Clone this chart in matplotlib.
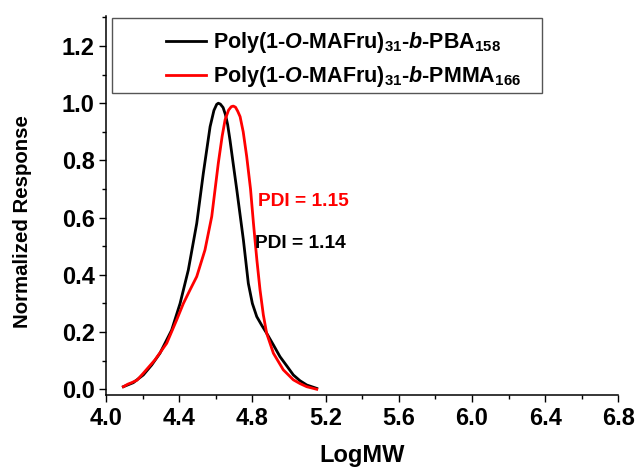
import numpy as np
import matplotlib.pyplot as plt
from matplotlib.patches import Rectangle
from matplotlib.ticker import MultipleLocator

plt.rcParams['font.family'] = ['Liberation Sans', 'DejaVu Sans']
plt.rcParams['font.weight'] = 'bold'
plt.rcParams['mathtext.fontset'] = 'custom'
plt.rcParams['mathtext.rm'] = 'Liberation Sans:bold'
plt.rcParams['mathtext.it'] = 'Liberation Sans:bold:italic'
plt.rcParams['mathtext.bf'] = 'Liberation Sans:bold'

# GPC traces (LogMW vs normalized detector response)
pba_logmw = [4.095, 4.149, 4.204, 4.25, 4.295, 4.359, 4.405, 4.45, 4.496, 4.532,
             4.569, 4.59, 4.605, 4.614, 4.625, 4.64, 4.653, 4.665, 4.678, 4.695,
             4.715, 4.751, 4.778, 4.8, 4.824, 4.85, 4.878, 4.915, 4.951, 4.99,
             5.024, 5.06, 5.097, 5.152]
pba_resp = [0.009, 0.023, 0.05, 0.085, 0.126, 0.207, 0.30, 0.417, 0.58, 0.755,
            0.918, 0.975, 0.996, 1.0, 0.997, 0.985, 0.96, 0.925, 0.87, 0.79,
            0.697, 0.522, 0.37, 0.30, 0.254, 0.225, 0.196, 0.155, 0.114, 0.08,
            0.05, 0.03, 0.015, 0.003]

pmma_logmw = [4.095, 4.12, 4.14, 4.17, 4.204, 4.268, 4.332, 4.386, 4.423, 4.459,
              4.496, 4.541, 4.578, 4.614, 4.635, 4.651, 4.67, 4.685, 4.696, 4.708,
              4.72, 4.733, 4.75, 4.769, 4.79, 4.806, 4.825, 4.842, 4.86, 4.878,
              4.915, 4.969, 5.024, 5.06, 5.097, 5.152]
pmma_resp = [0.009, 0.018, 0.023, 0.032, 0.056, 0.103, 0.161, 0.242, 0.30, 0.347,
             0.394, 0.487, 0.604, 0.791, 0.885, 0.942, 0.976, 0.988, 0.99, 0.986,
             0.972, 0.953, 0.90, 0.814, 0.70, 0.58, 0.45, 0.347, 0.26, 0.196,
             0.126, 0.068, 0.033, 0.02, 0.009, 0.0]

pba_label = r'Poly(1-$\mathit{O}$-MAFru)$_{\mathrm{31}}$-$\mathit{b}$-PBA$_{\mathrm{158}}$'
pmma_label = r'Poly(1-$\mathit{O}$-MAFru)$_{\mathrm{31}}$-$\mathit{b}$-PMMA$_{\mathrm{166}}$'

fig = plt.figure(figsize=(6.35, 4.7), dpi=100)
ax = fig.add_axes([0.1669, 0.1596, 0.8068, 0.807])

ax.plot(pba_logmw, pba_resp, color='black', lw=2, label=pba_label)
ax.plot(pmma_logmw, pmma_resp, color='red', lw=2, label=pmma_label)

ax.text(4.831, 0.656, 'PDI = 1.15', color='red', fontsize=13.8, fontweight='bold', va='center')
ax.text(4.815, 0.51, 'PDI = 1.14', color='black', fontsize=13.8, fontweight='bold', va='center')

ax.set_xlim(4.0, 6.8)
ax.set_ylim(-0.02, 1.306)
ax.xaxis.set_major_locator(MultipleLocator(0.4))
ax.xaxis.set_minor_locator(MultipleLocator(0.2))
ax.yaxis.set_major_locator(MultipleLocator(0.2))
ax.yaxis.set_minor_locator(MultipleLocator(0.1))
ax.set_yticks(np.arange(0, 1.21, 0.2))

for s in ['top', 'right']:
    ax.spines[s].set_visible(False)
for s in ['left', 'bottom']:
    ax.spines[s].set_linewidth(1.1)

ax.tick_params(which='major', length=5, width=1.0, labelsize=17, direction='out')
ax.tick_params(axis='x', which='major', pad=4)
ax.tick_params(axis='y', which='major', pad=3)
ax.tick_params(which='minor', length=3, width=1.0)
for lab in ax.get_xticklabels() + ax.get_yticklabels():
    lab.set_fontweight('bold')

ax.set_xlabel('LogMW', fontsize=17, fontweight='bold', labelpad=10)
ax.set_ylabel('Normalized Response', fontsize=14.7, fontweight='bold')
ax.yaxis.set_label_coords(-0.145, 0.456)

leg = ax.legend(loc='upper left', bbox_to_anchor=(0.097, 0.99), frameon=False,
                fontsize=15.5, handlelength=1.85, handletextpad=0.3, labelspacing=0.42,
                borderpad=0)

# legend frame drawn separately so it can be padded wider than the entries
fig.patches.append(Rectangle((0.176, 0.8015), 0.677, 0.1595, transform=fig.transFigure,
                             fill=False, edgecolor='#555555', lw=1.0))

fig.savefig('out.png', dpi=100)
